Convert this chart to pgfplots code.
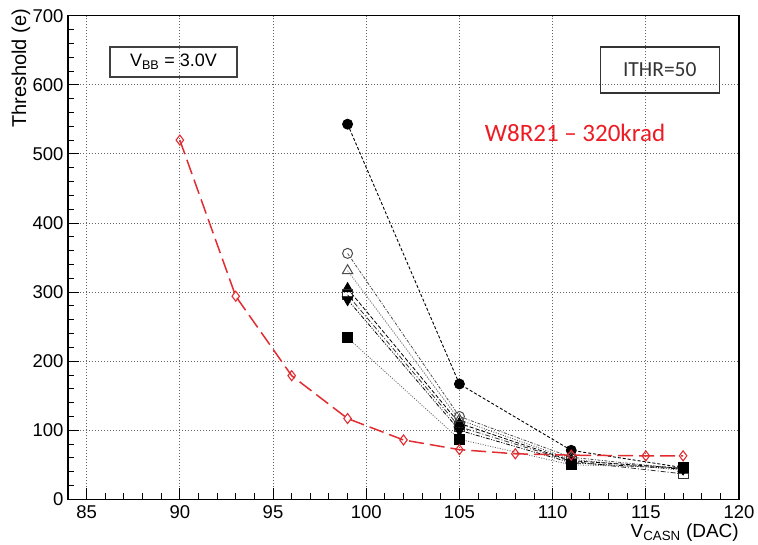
\documentclass[border=0pt]{standalone}
\usepackage{pgfplots}
\pgfplotsset{compat=1.18}
\usepackage{fontspec}
\setmainfont{Liberation Sans}
\newfontfamily\calibri{Carlito}
\definecolor{rootred}{RGB}{225,45,50}
\definecolor{txtred}{RGB}{237,28,36}
\begin{document}
\begin{tikzpicture}
\path[use as bounding box] (-68pt,-45.6pt) rectangle (690pt,499.4pt);
\begin{axis}[
  at={(0,0)}, anchor=south west,
  scale only axis, width=671pt, height=483.7pt,
  xmin=84, xmax=120, ymin=0, ymax=700,
  xtick={85,90,...,120}, ytick={0,100,...,700},
  minor x tick num=4, minor y tick num=4,
  xtick pos=bottom, ytick pos=left,
  tick align=inside,
  major tick length=11pt, minor tick length=6pt,
  every tick/.style={black, line width=0.9pt},
  axis line style={black, line width=1.6pt},
  grid=major,
  major grid style={black!60, line width=0.8pt, dash pattern=on 1.1pt off 1.9pt},
  /pgf/number format/assume math mode=true,
  tick label style={font=\fontsize{18.5}{20}\selectfont},
  xticklabel style={yshift=-3pt},
  yticklabel style={xshift=-1pt},
  clip=false,
]
% black series
\addplot[black, line width=0.9pt, dash pattern=on 3pt off 2pt, mark=*, mark size=5pt, mark options={solid}]
  coordinates {(99,543) (105,167) (111,71) (117,46)};
\addplot[black!70, line width=0.8pt, dash pattern=on 3pt off 1.5pt on 1pt off 1.5pt, mark=o, mark size=5pt, mark options={solid, line width=1pt}]
  coordinates {(99,356) (105,120) (111,61) (117,44)};
\addplot[black!70, line width=0.8pt, dash pattern=on 1pt off 1.5pt, mark=triangle, mark size=6pt, mark options={solid, line width=1pt}]
  coordinates {(99,331) (105,115) (111,58) (117,42)};
\addplot[black, line width=0.8pt, dash pattern=on 4pt off 2pt, mark=triangle*, mark size=6pt, mark options={solid}]
  coordinates {(99,305) (105,110) (111,56) (117,45)};
\addplot[black!80, line width=0.8pt, dash pattern=on 5pt off 2pt on 1pt off 2pt, mark=square, mark size=5pt, mark options={solid, line width=1pt}]
  coordinates {(99,296) (105,105) (111,55) (117,37)};
\addplot[black, line width=0.8pt, dash pattern=on 4pt off 1.5pt on 1pt off 1.5pt on 1pt off 1.5pt, mark=triangle*, mark size=6pt, mark options={solid, rotate=180}]
  coordinates {(99,289) (105,100) (111,53) (117,44)};
\addplot[black!60, line width=0.8pt, dash pattern=on 1pt off 1.5pt, mark=square*, mark size=5pt, mark options={solid, black}]
  coordinates {(99,234) (105,87) (111,50) (117,46)};
% red series
\addplot[rootred, line width=1.5pt, dash pattern=on 15pt off 6pt, mark=diamond, mark size=5pt, mark options={solid, line width=1.1pt, fill=white}]
  coordinates {(90,520) (93,294) (96,179) (99,117) (102,86) (105,72) (108,66) (111,64) (115,63) (117,63)};
% annotations
\node[draw=black!75, line width=1.2pt, minimum width=127pt, minimum height=30pt, inner sep=0pt, font=\fontsize{18}{20}\selectfont]
  at (axis cs:89.66,633) {V\textsubscript{BB} = 3.0V};
\node[draw=black!80, line width=1.2pt, minimum width=119pt, minimum height=46pt, inner sep=0pt, font=\calibri\fontsize{21.5}{24}\selectfont, text=black!80]
  at (axis cs:115.75,621.5) {ITHR=50};
\node[font=\calibri\fontsize{25}{28}\selectfont, text=txtred]
  at (axis cs:111.2,530) {W8R21 – 320krad};
\node[rotate=90, anchor=east, font=\fontsize{20}{22}\selectfont, inner sep=0pt]
  at ([xshift=-47pt, yshift=7pt]rel axis cs:0,1) {Threshold (e)};
\node[anchor=north east, font=\fontsize{19}{20}\selectfont, inner sep=0pt]
  at ([xshift=0pt, yshift=-24pt]rel axis cs:1,0) {V\textsubscript{CASN} (DAC)};
\end{axis}
\end{tikzpicture}
\end{document}
